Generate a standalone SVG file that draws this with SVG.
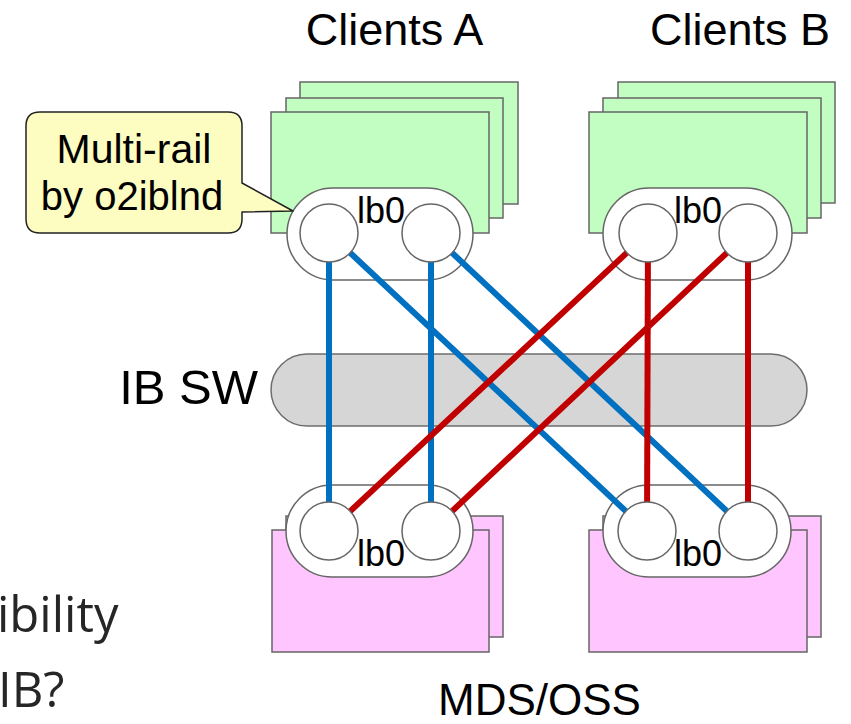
<svg xmlns="http://www.w3.org/2000/svg" width="851" height="724" viewBox="0 0 851 724">
<style>
.t{font-family:"Liberation Sans",Arial,Helvetica,sans-serif;fill:#000}
.green{fill:#c2fdc2;stroke:#666;stroke-width:1.5}
.pink{fill:#fec5fe;stroke:#666;stroke-width:1.5}
.pill{fill:#fff;stroke:#666;stroke-width:1.5}
.port{fill:#fff;stroke:#666;stroke-width:1.5}
.lb{font-size:36px;text-anchor:middle}
.blue{stroke:#0070c0;stroke-width:6;fill:none}
.red{stroke:#c00000;stroke-width:6;fill:none}
.side{font-family:"Open Sans","Noto Sans",sans-serif;font-weight:400;font-size:49px;fill:#262626}
</style>
<rect width="851" height="724" fill="#fff"/>

<text class="t" x="394.5" y="45" font-size="45" text-anchor="middle">Clients A</text>
<text class="t" x="740" y="45" font-size="45" text-anchor="middle">Clients B</text>
<text class="t" x="539.5" y="715" font-size="44" text-anchor="middle">MDS/OSS</text>
<text class="t" x="258" y="404" font-size="49" text-anchor="end">IB SW</text>
<text class="side" x="-3" y="632">ibility</text>
<text class="side" x="-2" y="707">IB?</text>

<g id="clientsA">
<rect class="green" x="300" y="82" width="218" height="122"/>
<rect class="green" x="286" y="98" width="217" height="120"/>
<rect class="green" x="271" y="112" width="218" height="121"/>
</g>
<g id="clientsB">
<rect class="green" x="618" y="82" width="217" height="121"/>
<rect class="green" x="603" y="98" width="218" height="120"/>
<rect class="green" x="589" y="112" width="218" height="121"/>
</g>
<g id="serversA">
<rect class="pink" x="286" y="516" width="217" height="121"/>
<rect class="pink" x="272" y="530" width="217" height="122"/>
</g>
<g id="serversB">
<rect class="pink" x="603" y="516" width="218" height="121"/>
<rect class="pink" x="589" y="530" width="218" height="122"/>
</g>

<g id="ibsw">
<rect x="271" y="354" width="536" height="72" rx="36" fill="#d6d6d6" stroke="#6d6d6d" stroke-width="1.5"/>
</g>

<g id="pills">
<rect class="pill" x="287" y="188" width="186" height="92" rx="46"/>
<rect class="pill" x="603" y="188" width="189" height="92" rx="46"/>
<rect class="pill" x="286" y="485" width="187" height="92" rx="46"/>
<rect class="pill" x="603" y="485" width="188" height="92" rx="46"/>
</g>

<g id="connectors">
<line class="blue" x1="329" y1="233" x2="329" y2="531"/>
<line class="blue" x1="329" y1="233" x2="647" y2="531"/>
<line class="blue" x1="431" y1="233" x2="431" y2="531"/>
<line class="blue" x1="431" y1="233" x2="748" y2="531"/>
<line class="red" x1="648" y1="233" x2="329" y2="531"/>
<line class="red" x1="648" y1="233" x2="647" y2="531"/>
<line class="red" x1="748" y1="233" x2="431" y2="531"/>
<line class="red" x1="748" y1="233" x2="748" y2="531"/>
</g>

<g id="ib0-clientsA">
<circle class="port" cx="329" cy="233" r="29"/>
<circle class="port" cx="431" cy="233" r="29"/>
<text class="t lb" x="381" y="223">lb0</text>
</g>
<g id="ib0-clientsB">
<circle class="port" cx="648" cy="233" r="29"/>
<circle class="port" cx="748" cy="233" r="29"/>
<text class="t lb" x="698" y="223">lb0</text>
</g>
<g id="ib0-serversA">
<circle class="port" cx="329" cy="531" r="29"/>
<circle class="port" cx="431" cy="531" r="29"/>
<text class="t lb" x="381" y="566">lb0</text>
</g>
<g id="ib0-serversB">
<circle class="port" cx="647" cy="531" r="29"/>
<circle class="port" cx="748" cy="531" r="29"/>
<text class="t lb" x="698" y="566">lb0</text>
</g>

<g id="callout">
<path d="M40,112 H228 Q242,112 242,126 V183 L293,211 L242,212 V219 Q242,233 228,233 H40 Q26,233 26,219 V126 Q26,112 40,112 Z" fill="#fefdc1" stroke="#222" stroke-width="1.5" stroke-linejoin="round"/>
<text class="t" x="134" y="163" font-size="41" text-anchor="middle">Multi-rail</text>
<text class="t" x="132" y="210" font-size="40" text-anchor="middle">by o2iblnd</text>
</g>
</svg>
